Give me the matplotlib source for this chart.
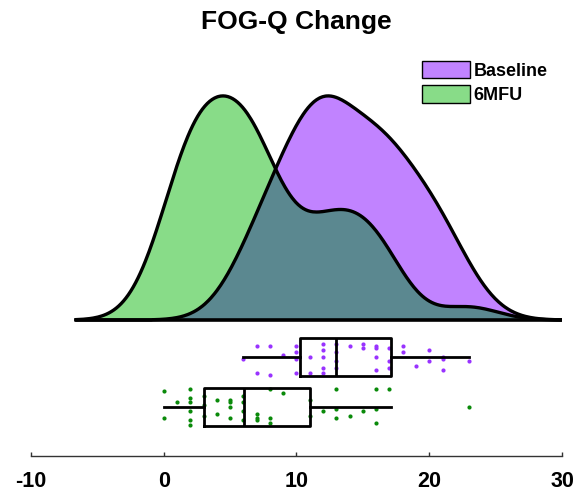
import numpy as np
import matplotlib.pyplot as plt
from matplotlib.patches import Patch

plt.rcParams['font.family'] = ['Liberation Sans', 'DejaVu Sans']
plt.rcParams['font.weight'] = 'bold'
plt.rcParams['axes.unicode_minus'] = False

# FOG-Q change scores (some sit under box lines)
baseline = [6, 7, 7, 8, 8, 9, 10, 10, 10, 10, 11, 11, 12, 12, 12, 12, 12, 13, 13,
            13, 13, 14, 15, 15, 16, 16, 16, 16, 17, 17, 17, 18, 18, 19, 20, 20,
            21, 21, 21, 23]
baseline_jit = [-0.01, 0.05, -0.07, 0.05, -0.08, 0.01, 0.05, 0.02, -0.01, -0.07,
                0.00, -0.07, 0.06, 0.03, 0.00, -0.05, -0.07, -0.05, 0.06, 0.02,
                -0.02, 0.05, 0.06, 0.04, 0.05, 0.04, 0.00, -0.06, -0.02, -0.05,
                0.04, 0.05, 0.02, -0.04, 0.03, -0.02, 0.00, -0.01, -0.06, -0.02]
mfu6 = [0, 0, 1, 2, 2, 2, 2, 2, 2, 3, 3, 3, 4, 4, 5, 5, 5, 5, 6, 6, 6, 6, 7, 7,
        7, 8, 8, 8, 9, 11, 11, 12, 13, 13, 13, 14, 15, 16, 16, 16, 17, 23]
mfu6_jit = [0.07, -0.05, 0.02, 0.08, 0.04, 0.02, -0.02, -0.06, -0.08, -0.04,
            0.05, 0.01, 0.03, -0.03, 0.03, 0.02, 0.00, -0.05, 0.05, -0.06,
            0.02, -0.02, -0.03, -0.05, -0.06, 0.08, -0.05, -0.07, 0.06, 0.03,
            -0.04, -0.02, 0.08, -0.01, -0.05, -0.04, -0.02, 0.08, -0.01, -0.07,
            0.08, 0.00]

# box stats: whisker low, q1, median, q3, whisker high
baseline_box = [6, 10.3, 13, 17.1, 23]
mfu6_box = [0, 3.05, 6.05, 11.05, 17.1]

labels = ['Baseline', '6MFU']
ticks = [-10, 0, 10, 20, 30]


def kde(x, bw):
    x = np.asarray(x, float)
    grid = np.linspace(x.min() - 3 * bw, x.max() + 3 * bw, 200)
    d = np.exp(-0.5 * ((grid[:, None] - x[None, :]) / bw) ** 2).sum(axis=1)
    return grid, d / d.max()


fig = plt.figure(figsize=(5.8, 4.97), dpi=100)
ax = fig.add_axes([0.0534, 0.0825, 0.9156, 0.817])

purple = '#c183ff'
green = '#88dc88'
dark = '#5b8890'

xb, yb = kde(baseline, 2.3)
xg, yg = kde(mfu6, 2.2)
grid = np.linspace(min(xb[0], xg[0]), max(xb[-1], xg[-1]), 400)
b = np.interp(grid, xb, yb, left=0, right=0)
g = np.interp(grid, xg, yg, left=0, right=0)

ax.fill_between(grid, 0, b, color=purple, lw=0, zorder=1)
ax.fill_between(grid, 0, g, color=green, lw=0, zorder=2)
ax.fill_between(grid, 0, np.minimum(b, g), color=dark, lw=0, zorder=3)
ax.plot(grid, b, color='k', lw=2.4, zorder=4)
ax.plot(grid, g, color='k', lw=2.4, zorder=4)
ax.plot([grid[0], grid[-1]], [0, 0], color='k', lw=2.6, zorder=4,
        solid_capstyle='round')

pos = [-0.165, -0.388]
ax.scatter(baseline, pos[0] + np.array(baseline_jit), s=9, color='#9933ff',
           lw=0, zorder=5)
ax.scatter(mfu6, pos[1] + np.array(mfu6_jit), s=9, color='#0a8a0a',
           lw=0, zorder=5)

stats = []
for lab, s in zip(labels, [baseline_box, mfu6_box]):
    stats.append(dict(label=lab, whislo=s[0], q1=s[1], med=s[2], q3=s[3],
                      whishi=s[4], fliers=[]))
lp = dict(color='k', lw=2)
ax.bxp(stats, positions=pos, widths=0.17, orientation='horizontal',
       showcaps=False, boxprops=lp, whiskerprops=lp, medianprops=lp,
       manage_ticks=False, zorder=6)

ax.set_xlim(-10, 30)
ax.set_ylim(-0.607, 1.205)
ax.set_xticks(ticks)
ax.set_yticks([])
for sp in ['left', 'right', 'top']:
    ax.spines[sp].set_visible(False)
ax.spines['bottom'].set_color('#333333')
ax.spines['bottom'].set_linewidth(1.0)
ax.tick_params(axis='x', direction='in', length=3, width=1, color='#333333',
               labelsize=15.5, pad=11)
for t in ax.get_xticklabels():
    t.set_fontweight('bold')

fig.text(0.511, 1 - 22 / 497, 'FOG-Q Change', ha='center', va='center',
         fontsize=19, fontweight='bold')

handles = [Patch(facecolor=purple, edgecolor='k', lw=1),
           Patch(facecolor=green, edgecolor='k', lw=1)]
fig.legend(handles, labels, loc='upper left', bbox_to_anchor=(422 / 580, 1 - 61 / 497),
           frameon=False, handlelength=2.65, handleheight=1.1,
           handletextpad=0.22, labelspacing=0.3, borderpad=0, borderaxespad=0,
           prop=dict(weight='bold', size=13))

fig.savefig('out.png', dpi=100)
